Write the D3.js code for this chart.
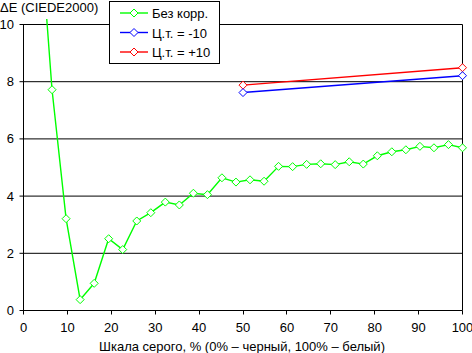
<!DOCTYPE html>
<html>
<head>
<meta charset="utf-8">
<script src="https://cdn.jsdelivr.net/npm/d3@7"></script>
<style>
  html, body { margin: 0; padding: 0; background: #fff; }
  svg { display: block; font-family: "Liberation Sans", Arial, sans-serif; }
</style>
</head>
<body>
<div id="chart"></div>
<script>
// Grey level steps (% of white) and measured ΔE values
const greyX = [3.2, 6.5, 9.7, 12.9, 16.1, 19.4, 22.6, 25.8, 29.0, 32.3, 35.5, 38.7, 41.9, 45.2, 48.4,
  51.6, 54.8, 58.1, 61.3, 64.5, 67.7, 71.0, 74.2, 77.4, 80.6, 83.9, 87.1, 90.3, 93.5, 96.8, 100];
const noCorr = [14.5, 7.72, 3.21, 0.38, 0.95, 2.51, 2.13, 3.13, 3.42, 3.79, 3.69, 4.10, 4.05, 4.64, 4.49,
  4.57, 4.52, 5.04, 5.03, 5.11, 5.13, 5.10, 5.20, 5.12, 5.41, 5.55, 5.62, 5.74, 5.69, 5.80, 5.69];
const tempX = [50, 100];
const tempMinus = [7.62, 8.21];
const tempPlus = [7.88, 8.49];
const seriesNames = ["Без корр.", "Ц.т. = -10", "Ц.т. = +10"];
const seriesColors = ["#00ff00", "#0000ff", "#ff0000"];
const xTicks = [0, 10, 20, 30, 40, 50, 60, 70, 80, 90, 100];
const yTicks = [0, 2, 4, 6, 8, 10];

const width = 472, height = 353;

const x = d3.scaleLinear().domain([0, 100]).range([23.5, 462.5]);
const y = d3.scaleLinear().domain([0, 10]).range([310.5, 24.5]);

const svg = d3.select("#chart").append("svg")
    .attr("width", width)
    .attr("height", height);

svg.append("rect").attr("width", width).attr("height", height).attr("fill", "#fff");

// horizontal grid + y ticks
svg.append("g")
  .selectAll("line")
  .data(yTicks)
  .join("line")
    .attr("x1", x(0) - 4)
    .attr("x2", x(100))
    .attr("y1", d => y(d))
    .attr("y2", d => y(d))
    .attr("stroke", "#000");

// left axis and right border
svg.append("line").attr("x1", x(0)).attr("x2", x(0)).attr("y1", y(10)).attr("y2", y(0)).attr("stroke", "#000");
svg.append("line").attr("x1", x(100)).attr("x2", x(100)).attr("y1", y(10)).attr("y2", y(0)).attr("stroke", "#000");

// x ticks
svg.append("g")
  .selectAll("line")
  .data(xTicks)
  .join("line")
    .attr("x1", d => Math.round(x(d) - 0.5) + 0.5)
    .attr("x2", d => Math.round(x(d) - 0.5) + 0.5)
    .attr("y1", y(0))
    .attr("y2", y(0) + 4)
    .attr("stroke", "#000");

// tick labels
svg.append("g")
    .attr("font-size", 13)
    .attr("text-anchor", "end")
  .selectAll("text")
  .data(yTicks)
  .join("text")
    .attr("x", 14)
    .attr("y", d => y(d) + 4.5)
    .text(d => d);

svg.append("g")
    .attr("font-size", 13)
    .attr("text-anchor", "middle")
  .selectAll("text")
  .data(xTicks)
  .join("text")
    .attr("x", d => x(d))
    .attr("y", 332)
    .text(d => d);

svg.append("text")
    .attr("x", 0)
    .attr("y", 12)
    .attr("font-size", 13)
    .text("ΔE (CIEDE2000)");

svg.append("text")
    .attr("x", 242)
    .attr("y", 351)
    .attr("font-size", 13)
    .attr("text-anchor", "middle")
    .text("Шкала серого, % (0% – черный, 100% – белый)");

// clip for the data
svg.append("clipPath").attr("id", "plot")
  .append("rect")
    .attr("x", x(0) - 5).attr("y", 19)
    .attr("width", x(100) - x(0) + 10).attr("height", y(0) - 19 + 5);

const line = d3.line().x(d => x(d[0])).y(d => y(d[1]));
const diamond = (cx, cy) => `M${cx},${cy - 4}L${cx + 4},${cy}L${cx},${cy + 4}L${cx - 4},${cy}Z`;

const series = [
  greyX.map((v, i) => [v, noCorr[i]]),
  tempX.map((v, i) => [v, tempMinus[i]]),
  tempX.map((v, i) => [v, tempPlus[i]])
];

const plot = svg.append("g").attr("clip-path", "url(#plot)");
[2, 1, 0].forEach(s => {
  const g = plot.append("g");
  g.append("path")
      .attr("d", line(series[s]))
      .attr("fill", "none")
      .attr("stroke", seriesColors[s])
      .attr("stroke-width", 1.4);
  g.selectAll("path.m")
    .data(series[s])
    .join("path")
      .attr("class", "m")
      .attr("d", d => diamond(x(d[0]), y(d[1])))
      .attr("fill", "#fff")
      .attr("stroke", seriesColors[s])
      .attr("stroke-width", 1);
});

// legend
const legend = svg.append("g");
legend.append("rect")
    .attr("x", 109.5).attr("y", 1.5)
    .attr("width", 110).attr("height", 62)
    .attr("fill", "#fff")
    .attr("stroke", "#000");
seriesNames.forEach((name, i) => {
  const ly = 13 + i * 19.5;
  legend.append("line")
      .attr("x1", 120).attr("x2", 148)
      .attr("y1", ly).attr("y2", ly)
      .attr("stroke", seriesColors[i])
      .attr("stroke-width", 1.4);
  legend.append("path")
      .attr("d", diamond(134, ly))
      .attr("fill", "#fff")
      .attr("stroke", seriesColors[i]);
  legend.append("text")
      .attr("x", 152)
      .attr("y", ly + 5)
      .attr("font-size", 13)
      .text(name);
});
</script>
</body>
</html>
